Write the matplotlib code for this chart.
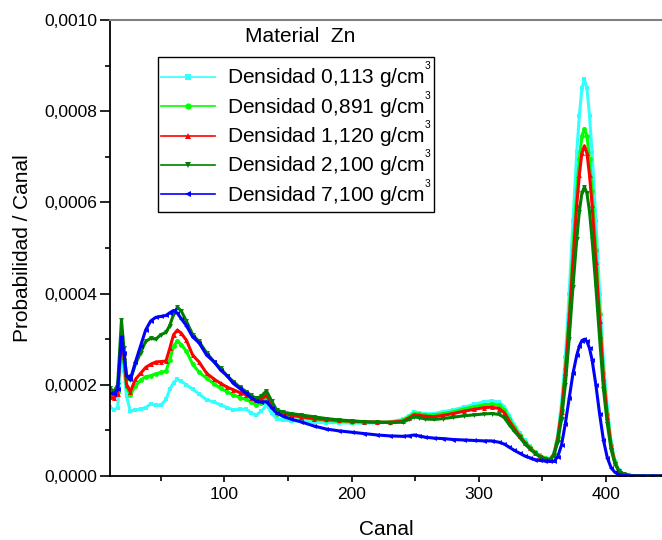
import matplotlib
matplotlib.use("Agg")
import matplotlib.pyplot as plt
from matplotlib.lines import Line2D
from matplotlib.ticker import MultipleLocator, FuncFormatter

plt.rcParams["font.family"] = ["Liberation Sans", "DejaVu Sans"]
plt.rcParams["mathtext.fontset"] = "custom"
plt.rcParams["mathtext.rm"] = "Liberation Sans"

# channel positions (shared by all five series)
canal = [10, 13, 16, 19, 21, 23, 26, 30, 34, 38, 42, 46, 50, 54, 57, 60, 63, 66, 70, 75,
         80, 86, 92, 97, 102, 107, 112, 117, 121, 125, 129, 133, 137, 141, 146, 152, 160,
         170, 180, 190, 200, 210, 220, 230, 240, 245, 249, 253, 258, 265, 272, 280, 288,
         296, 304, 310, 316, 320, 324, 328, 332, 336, 340, 344, 348, 352, 356, 359, 362,
         365, 368, 371, 374, 377, 379, 381, 383, 385, 387, 389, 392, 395, 398, 401, 404,
         407, 410, 414, 420, 428, 436, 444]

# probability per channel, in units of 1e-4
d0113 = [1.52, 1.45, 1.50, 2.70, 2.30, 1.75, 1.42, 1.45, 1.47, 1.50, 1.58, 1.55, 1.55, 1.68,
         1.90, 2.05, 2.12, 2.08, 2.00, 1.90, 1.80, 1.67, 1.62, 1.56, 1.50, 1.45, 1.46, 1.47,
         1.38, 1.34, 1.42, 1.56, 1.38, 1.26, 1.23, 1.21, 1.20, 1.18, 1.17, 1.17, 1.16, 1.16,
         1.17, 1.19, 1.24, 1.32, 1.41, 1.39, 1.36, 1.37, 1.41, 1.45, 1.51, 1.57, 1.63, 1.65,
         1.62, 1.52, 1.32, 1.12, 0.94, 0.78, 0.65, 0.53, 0.45, 0.40, 0.38, 0.50, 0.90, 1.60,
         2.60, 4.00, 5.60, 7.10, 7.90, 8.50, 8.70, 8.50, 7.90, 7.10, 5.60, 4.00, 2.50, 1.50,
         0.75, 0.33, 0.13, 0.04, 0.01, 0.0, 0.0, 0.0]
d0891 = [1.82, 1.78, 1.85, 2.90, 2.50, 1.95, 1.78, 1.98, 2.10, 2.18, 2.20, 2.24, 2.27, 2.30,
         2.55, 2.85, 2.96, 2.88, 2.74, 2.45, 2.28, 2.14, 2.02, 1.92, 1.85, 1.78, 1.72, 1.68,
         1.62, 1.56, 1.60, 1.70, 1.52, 1.37, 1.34, 1.32, 1.28, 1.24, 1.22, 1.20, 1.19, 1.18,
         1.18, 1.18, 1.22, 1.30, 1.37, 1.36, 1.34, 1.34, 1.37, 1.41, 1.47, 1.52, 1.56, 1.58,
         1.55, 1.45, 1.25, 1.07, 0.90, 0.75, 0.63, 0.52, 0.44, 0.39, 0.37, 0.48, 0.85, 1.45,
         2.35, 3.55, 4.95, 6.25, 6.95, 7.45, 7.62, 7.45, 6.95, 6.25, 4.95, 3.55, 2.25, 1.35,
         0.68, 0.30, 0.12, 0.04, 0.01, 0.0, 0.0, 0.0]
d1120 = [1.74, 1.70, 1.80, 3.08, 2.60, 2.00, 1.85, 2.12, 2.25, 2.38, 2.45, 2.50, 2.51, 2.52,
         2.80, 3.10, 3.20, 3.13, 2.98, 2.65, 2.50, 2.25, 2.12, 2.03, 1.95, 1.89, 1.83, 1.78,
         1.72, 1.67, 1.68, 1.78, 1.58, 1.41, 1.37, 1.34, 1.30, 1.26, 1.24, 1.22, 1.20, 1.19,
         1.18, 1.18, 1.20, 1.27, 1.34, 1.33, 1.31, 1.30, 1.33, 1.37, 1.42, 1.46, 1.50, 1.51,
         1.48, 1.39, 1.20, 1.03, 0.88, 0.73, 0.61, 0.51, 0.43, 0.38, 0.36, 0.47, 0.82, 1.40,
         2.25, 3.40, 4.70, 5.95, 6.60, 7.08, 7.24, 7.08, 6.60, 5.95, 4.70, 3.40, 2.15, 1.30,
         0.65, 0.29, 0.12, 0.04, 0.01, 0.0, 0.0, 0.0]
d2100 = [1.93, 1.85, 2.00, 3.42, 2.80, 2.15, 2.10, 2.45, 2.70, 2.95, 3.02, 3.00, 3.10, 3.15,
         3.30, 3.55, 3.70, 3.62, 3.40, 3.10, 2.95, 2.70, 2.50, 2.36, 2.20, 2.07, 1.95, 1.85,
         1.77, 1.70, 1.75, 1.87, 1.65, 1.45, 1.40, 1.37, 1.34, 1.30, 1.26, 1.23, 1.21, 1.19,
         1.18, 1.17, 1.18, 1.24, 1.30, 1.28, 1.25, 1.24, 1.26, 1.29, 1.32, 1.34, 1.36, 1.37,
         1.35, 1.28, 1.12, 0.98, 0.85, 0.71, 0.60, 0.50, 0.42, 0.37, 0.35, 0.45, 0.75, 1.25,
         2.00, 3.00, 4.15, 5.20, 5.80, 6.20, 6.34, 6.20, 5.80, 5.20, 4.15, 3.00, 1.90, 1.15,
         0.58, 0.27, 0.11, 0.04, 0.01, 0.0, 0.0, 0.0]
d7100 = [1.82, 1.80, 1.90, 3.05, 2.70, 2.20, 2.12, 2.50, 2.85, 3.20, 3.40, 3.48, 3.50, 3.52,
         3.58, 3.63, 3.57, 3.45, 3.30, 3.05, 2.92, 2.65, 2.50, 2.32, 2.20, 2.03, 1.92, 1.81,
         1.72, 1.64, 1.62, 1.63, 1.50, 1.38, 1.31, 1.25, 1.19, 1.10, 1.03, 0.99, 0.96, 0.93,
         0.90, 0.88, 0.87, 0.88, 0.90, 0.88, 0.85, 0.83, 0.82, 0.80, 0.79, 0.78, 0.77, 0.77,
         0.74, 0.70, 0.63, 0.56, 0.50, 0.44, 0.40, 0.36, 0.34, 0.33, 0.32, 0.32, 0.42, 0.68,
         1.15, 1.70, 2.25, 2.65, 2.85, 2.97, 3.00, 2.95, 2.80, 2.55, 2.00, 1.35, 0.78, 0.40,
         0.18, 0.08, 0.03, 0.01, 0.0, 0.0, 0.0, 0.0]

series = [
    (d0113, "#33FFFF", "s", "Densidad 0,113 g/cm$^{^{3}}$"),
    (d0891, "#00FF00", "o", "Densidad 0,891 g/cm$^{^{3}}$"),
    (d1120, "#FF0000", "^", "Densidad 1,120 g/cm$^{^{3}}$"),
    (d2100, "#008000", "v", "Densidad 2,100 g/cm$^{^{3}}$"),
    (d7100, "#0000FF", "<", "Densidad 7,100 g/cm$^{^{3}}$"),
]

fig = plt.figure(figsize=(6.62, 5.40), dpi=100)
ax = fig.add_axes([110 / 662, 1 - 476 / 540, 552 / 662, 456 / 540])

handles = []
for vals, color, mk, label in series:
    assert len(vals) == len(canal)
    y = [v * 1e-4 for v in vals]
    ax.plot(canal, y, color=color, lw=2.2, marker=mk, ms=3.5, mew=0)
    handles.append(Line2D([], [], color=color, lw=1.2, marker=mk, ms=4.5, mew=0, label=label))

ax.set_xlim(10, 444)
ax.set_ylim(0, 0.0010)
ax.xaxis.set_major_locator(MultipleLocator(100))
ax.xaxis.set_minor_locator(MultipleLocator(50))
ax.yaxis.set_major_locator(MultipleLocator(0.0002))
ax.yaxis.set_minor_locator(MultipleLocator(0.0001))
ax.yaxis.set_major_formatter(FuncFormatter(lambda v, p: f"{v:.4f}".replace(".", ",")))

ax.tick_params(axis="y", which="major", length=7, width=1.2, labelsize=12.5, pad=2)
ax.tick_params(axis="y", which="minor", length=3.5, width=1.2)
ax.tick_params(axis="x", which="major", length=4, width=1.2, labelsize=12.5, pad=4)
ax.tick_params(axis="x", which="minor", length=3.5, width=1.2)

ax.spines["right"].set_visible(False)
ax.spines["top"].set_color("#808080")
ax.spines["top"].set_linewidth(1.5)
ax.spines["left"].set_linewidth(1.3)
ax.spines["bottom"].set_linewidth(1.3)

ax.set_xlabel("Canal", fontsize=15, labelpad=13)
ax.set_ylabel("Probabilidad / Canal", fontsize=15, labelpad=9)

ax.text(0.344, 0.963, "Material  Zn", transform=ax.transAxes, fontsize=15,
        ha="center", va="center")

leg = ax.legend(handles=handles, loc="upper left", bbox_to_anchor=(0.087, 0.919),
                borderaxespad=0, fontsize=15, frameon=True, fancybox=False,
                edgecolor="black", framealpha=1, handlelength=2.6,
                handletextpad=0.55, labelspacing=-0.1, borderpad=0.14)
leg.get_frame().set_linewidth(1.0)

fig.savefig("out.png", dpi=100)
